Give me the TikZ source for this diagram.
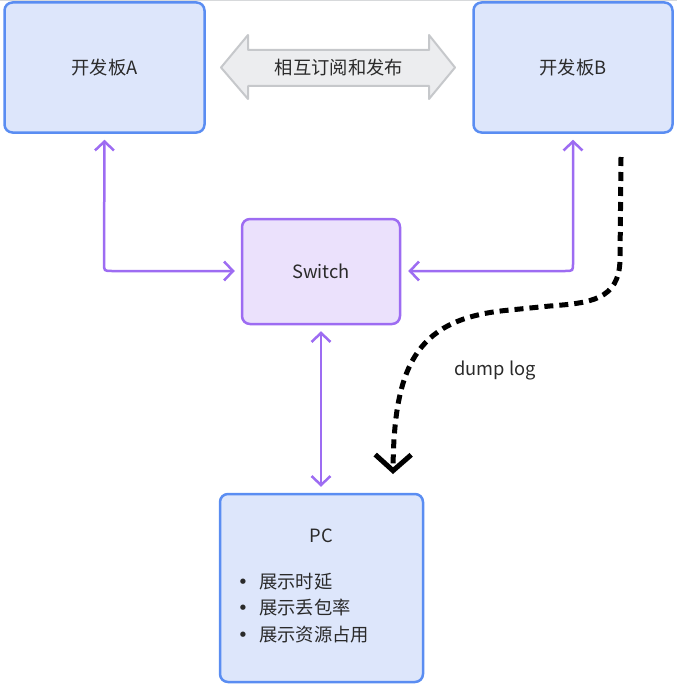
\documentclass[tikz,border=0pt]{standalone}
\usepackage{fontspec}
\setmainfont{Noto Sans CJK SC}
\newfontfamily\dejavu{DejaVu Sans}
\usetikzlibrary{arrows.meta}
\definecolor{boxblue}{HTML}{DDE6FB}
\definecolor{lineblue}{HTML}{5A8DF2}
\definecolor{boxpurple}{HTML}{EBE1FC}
\definecolor{linepurple}{HTML}{9D6CF2}
\definecolor{arrowgray}{HTML}{ECEDEF}
\definecolor{arrowline}{HTML}{C6C8CB}
\definecolor{txt}{HTML}{2A2A2A}
\tikzset{
  board/.style={draw=lineblue, fill=boxblue, line width=2.5pt, rounded corners=8pt, text=txt, font=\fontsize{18.3}{22}\selectfont},
  swbox/.style={draw=linepurple, fill=boxpurple, line width=2.5pt, rounded corners=8pt, text=txt, font=\fontsize{18.3}{22}\selectfont},
  lbl/.style={text=txt, font=\fontsize{18.3}{22}\selectfont, inner sep=0pt},
  ptip/.tip={Straight Barb[length=9pt,width=19pt]},
  plink/.style={draw=linepurple, line width=2.5pt, ptip-ptip},
  dumplink/.style={draw=black, line width=5pt, dash pattern=on 9pt off 6pt, -{Straight Barb[length=16pt,width=36pt]}},
}
\newcommand{\pcbullet}{\makebox[22pt][l]{\hspace{0.5pt}{\dejavu •}}}
\begin{document}
\begin{tikzpicture}[x=1pt,y=-1pt]
\useasboundingbox (0,0) rectangle (677,690);
\draw[color=arrowline!70, line width=1.2pt] (0,0.6) -- (677,0.6);

\node[board, minimum width=200pt, minimum height=130pt] (A) at (104.5,67.5) {开发板A};
\node[board, minimum width=199pt, minimum height=130pt] (B) at (573,67.5) {开发板B};
\node[swbox, minimum width=158pt, minimum height=105pt] (S) at (321,271.5) {Switch};
\node[board, minimum width=203pt, minimum height=188pt] (PC) at (321.5,588) {};
\node[lbl] (pctitle) at (321.5,536) {PC};
\node[lbl, anchor=west, align=left] (pclist) at (237,608) {%
  \pcbullet 展示时延\\[4.5pt]
  \pcbullet 展示丢包率\\[4.5pt]
  \pcbullet 展示资源占用};

% double arrow
\draw[draw=arrowline, fill=arrowgray, line width=2pt, line join=round]
  (221,67.5) -- (248,35) -- (248,50) -- (429,50) -- (429,35) -- (455,67.5)
  -- (429,99) -- (429,86) -- (248,86) -- (248,99) -- cycle;
\node[lbl] (pub) at (339,68) {相互订阅和发布};

% purple links
\coordinate (Aturn) at (104,271);
\coordinate (Bturn) at (573,271);
\draw[plink] ([yshift=-6pt]A.south) -- ([yshift=8pt]Aturn) .. controls (Aturn) .. ([xshift=8pt]Aturn) -- ([xshift=-6pt]S.west |- Aturn);
\draw[plink] ([yshift=-6pt]B.south) -- ([yshift=8pt]Bturn) .. controls (Bturn) .. ([xshift=-8pt]Bturn) -- ([xshift=7pt]S.east |- Bturn);
\draw[plink] ([yshift=-6pt]S.south) -- ([yshift=6pt]PC.north -| S.south);

% dump log
\coordinate (d0) at (621,157);
\draw[dumplink] (d0) -- (620,260) .. controls (619,300) and (590,303) .. (550,306)
  -- (510,310) .. controls (420,318) and (394,360) .. (393,474);
\node[lbl] (dump) at (495,370) {dump log};
\end{tikzpicture}
\end{document}
